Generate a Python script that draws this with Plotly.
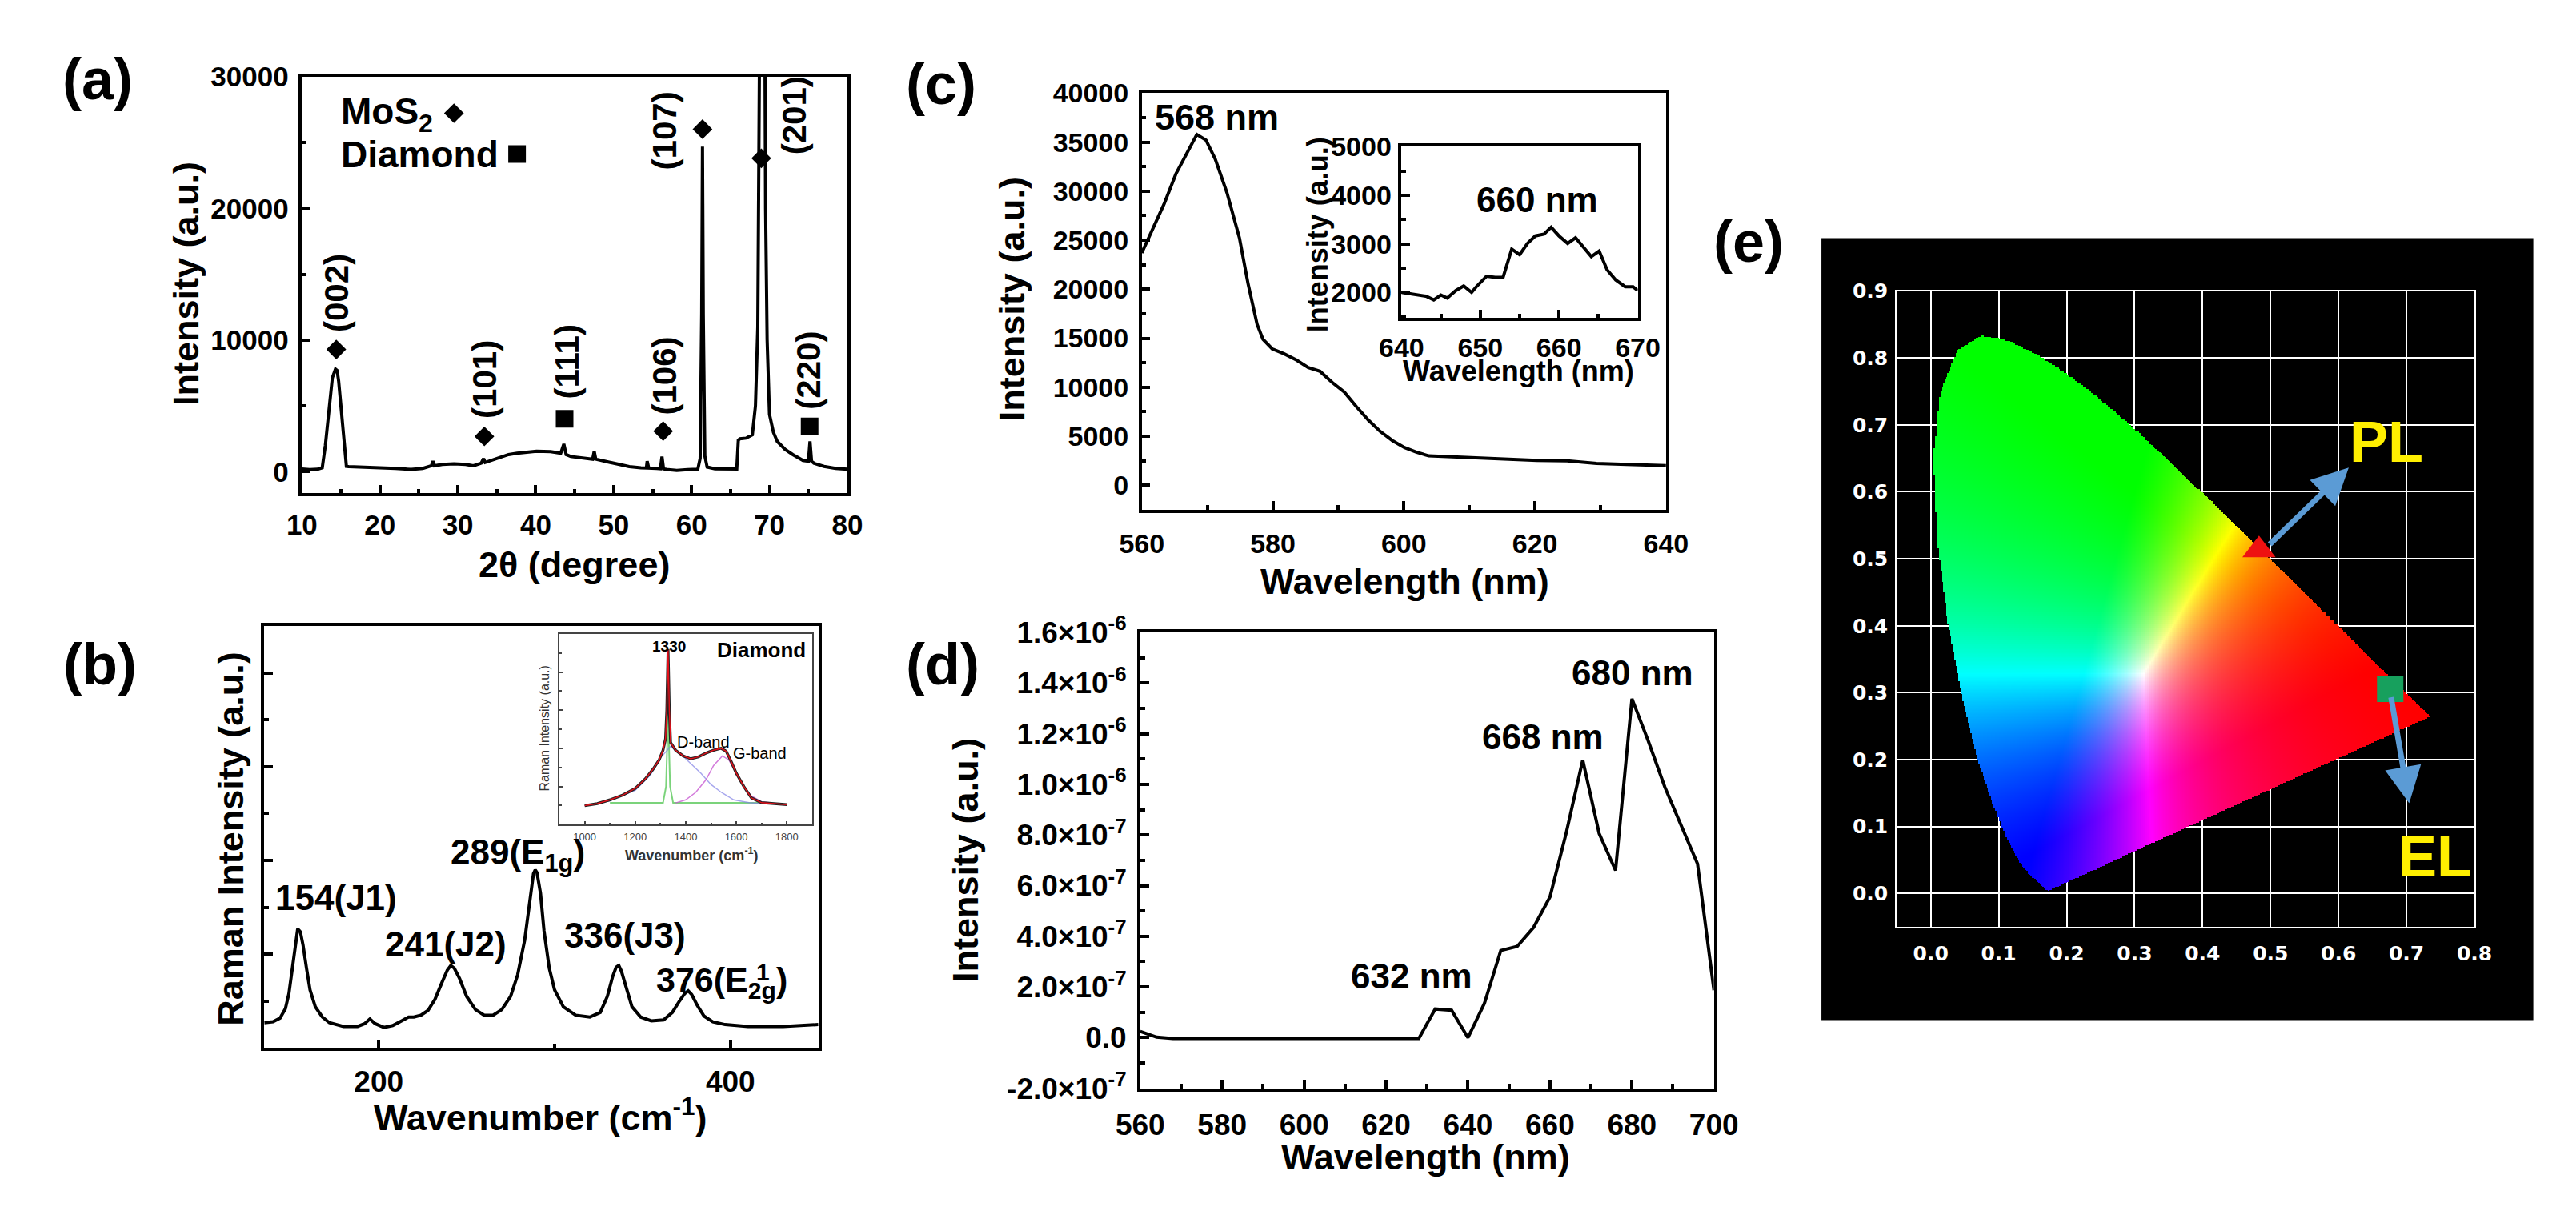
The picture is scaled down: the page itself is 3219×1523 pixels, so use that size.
import numpy as np
import plotly.graph_objects as go

W, H = 3219, 1523
FONT = "Liberation Sans, Arial, sans-serif"

# ---------------- (a) XRD ----------------
xrd_2theta = [10.0, 11.0, 12.0, 12.6, 13.0, 13.5, 13.9, 14.3, 14.5, 14.7, 15.0, 15.4, 15.7, 16.0,
              17.0, 18.5, 20.0, 22.0, 24.0, 25.5, 26.6, 26.8, 27.0, 28.0, 29.5, 31.0, 32.0, 33.0,
              33.3, 33.5, 34.5, 35.5, 36.5, 37.6, 39.0, 40.1, 41.9, 43.2, 43.6, 43.9, 44.5, 45.5,
              47.3, 47.5, 47.7, 49.2, 50.5, 52.0, 53.5, 54.2, 54.3, 54.5, 55.5, 56.0, 56.2, 56.4,
              57.0, 58.1, 59.5, 60.8, 61.1, 61.3, 61.4, 61.5, 61.7, 62.0, 63.0, 64.5, 65.8, 66.0,
              66.2, 67.0, 67.8, 68.2, 68.5, 68.7, 68.9, 69.1, 69.3, 69.5, 69.7, 70.0, 70.5, 71.0,
              72.0, 73.0, 74.3, 75.0, 75.2, 75.4, 75.7, 77.0, 78.5, 80.0]
xrd_intensity = [200, 150, 180, 300, 2000, 5000, 7140, 7800, 7700, 6900, 5000, 2000, 400, 380,
                 370, 350, 300, 250, 170, 250, 450, 800, 450, 550, 600, 550, 450, 650,
                 1000, 700, 900, 1100, 1300, 1400, 1500, 1550, 1520, 1400, 2100, 1300, 1150, 1080,
                 950, 1550, 950, 750, 550, 380, 300, 280, 800, 280, 250, 230, 1150, 220,
                 150, 100, 150, 190, 1000, 12000, 24700, 12000, 1200, 350, 220, 200, 200, 2400,
                 2500, 2550, 2800, 5000, 11000, 30000, 60000, 62000, 50000, 20000, 10000, 4350, 3000, 2300,
                 1700, 1300, 850, 800, 2300, 800, 640, 400, 250, 180]

xrd_labels = ["(002)", "(101)", "(111)", "(106)", "(107)", "(201)", "(220)"]
xrd_label_x = [14.5, 33.45, 44.0, 56.55, 56.55, 73.15, 75.0]
xrd_label_y = [13590, 7000, 8350, 7260, 25880, 27080, 7720]
mos2_mark_x = [14.4, 33.4, 56.35, 61.4, 68.95, 29.5]
mos2_mark_y = [9290, 2680, 3080, 26020, 23810, 27235]
diamond_mark_x = [43.7, 75.15, 37.6]
diamond_mark_y = [4020, 3440, 24130]

# ---------------- (b) Raman ----------------
raman_shift = [135, 140, 144, 147, 149, 151, 153, 154, 155.5, 157, 159, 161, 164, 168, 172, 180,
               188, 192, 195, 198, 203, 208, 213, 217, 220, 224, 228, 232, 236, 239, 241, 243,
               246, 250, 255, 260, 265, 270, 275, 279, 283, 286, 288, 289, 290, 292, 294, 297,
               300, 305, 312, 320, 326, 330, 333, 335, 336.5, 338, 341, 344, 349, 355, 362, 367,
               371, 374, 376, 378, 381, 385, 390, 397, 410, 430, 450]
raman_int = [0.27, 0.28, 0.32, 0.42, 0.58, 0.85, 1.18, 1.27, 1.24, 1.10, 0.85, 0.62, 0.44, 0.33, 0.27, 0.23,
             0.23, 0.26, 0.31, 0.26, 0.22, 0.24, 0.29, 0.33, 0.33, 0.35, 0.40, 0.52, 0.70, 0.83, 0.88, 0.85,
             0.74, 0.55, 0.41, 0.35, 0.35, 0.41, 0.55, 0.78, 1.15, 1.60, 1.86, 1.90, 1.87, 1.65, 1.25, 0.85,
             0.62, 0.44, 0.35, 0.33, 0.38, 0.55, 0.76, 0.86, 0.88, 0.82, 0.62, 0.44, 0.33, 0.29, 0.30, 0.38,
             0.50, 0.58, 0.61, 0.57, 0.46, 0.34, 0.28, 0.25, 0.23, 0.23, 0.25]
raman_labels = ["154(J1)", "241(J2)", "289(E<sub>1g</sub>)", "336(J3)"]
raman_label_x = [176, 238, 279, 340]
raman_label_y = [1.6, 1.11, 2.06, 1.2]

# inset: diamond Raman
dia_shift = [1000, 1050, 1100, 1150, 1200, 1240, 1270, 1295, 1310, 1320, 1325, 1330, 1335, 1340,
             1360, 1390, 1420, 1450, 1480, 1510, 1540, 1560, 1580, 1600, 1630, 1660, 1700, 1750, 1800]
dia_int = [0.10, 0.11, 0.13, 0.155, 0.19, 0.24, 0.29, 0.34, 0.39, 0.45, 0.60, 0.92, 0.60, 0.43,
           0.39, 0.36, 0.345, 0.355, 0.375, 0.39, 0.40, 0.385, 0.33, 0.27, 0.20, 0.14, 0.115, 0.11, 0.105]
dband_shift = [1000, 1100, 1200, 1260, 1300, 1340, 1380, 1420, 1460, 1500, 1540, 1590, 1650, 1700]
dband_int = [0.10, 0.125, 0.18, 0.26, 0.35, 0.41, 0.37, 0.32, 0.27, 0.21, 0.17, 0.13, 0.115, 0.11]
gband_shift = [1360, 1400, 1440, 1480, 1510, 1545, 1570, 1600, 1630, 1660, 1700, 1740]
gband_int = [0.114, 0.13, 0.17, 0.235, 0.31, 0.36, 0.34, 0.27, 0.20, 0.15, 0.12, 0.114]
diapk_shift = [1100, 1310, 1322, 1327, 1330, 1333, 1338, 1350, 1700]
diapk_int = [0.114, 0.114, 0.2, 0.45, 0.58, 0.45, 0.2, 0.114, 0.114]

# ---------------- (c) PL ----------------
pl_wl = [560, 561.6, 563.4, 565.2, 567.1, 568.4, 569.8, 571.2, 573.0, 574.9, 576.2, 577.6, 578.5,
         579.9, 581.7, 583.6, 585.4, 587.2, 589.1, 590.9, 592.8, 594.6, 596.4, 598.3, 600.1, 601.9,
         603.8, 607.4, 611.1, 615.7, 620.3, 624.9, 629.4, 634.0, 639.5, 640]
pl_int = [23700, 26000, 28690, 31750, 34050, 35780, 35200, 33290, 29840, 25230, 20630, 16410, 14880,
          13920, 13420, 12770, 12000, 11620, 10470, 9510, 7980, 6630, 5480, 4530, 3840, 3380,
          2990, 2880, 2800, 2610, 2530, 2490, 2220, 2110, 2030, 2000]
pl_zoom_wl = [640, 641.9, 643.1, 644.1, 645.0, 645.8, 646.9, 647.9, 648.9, 649.5, 650.8, 651.9, 652.9,
              654.0, 655.0, 656.0, 657.0, 658.1, 659.0, 660.0, 661.1, 662.1, 663.1, 664.1, 665.1,
              666.1, 667.2, 668.4, 669.4, 670]
pl_zoom_int = [2000, 1946, 1922, 1845, 1946, 1884, 2039, 2132, 2000, 2116, 2333, 2310, 2310,
               2891, 2775, 3008, 3163, 3202, 3341, 3163, 3008, 3124, 2930, 2736, 2853,
               2465, 2256, 2116, 2116, 2039]

# ---------------- (d) EL ----------------
el_wl = [560, 564, 568, 628, 632, 636, 640, 644, 648, 652, 656, 660, 664, 668, 672, 676, 680,
         684, 688, 692, 696, 700]
el_int = [0.25e-7, 0.02e-7, -0.03e-7, -0.03e-7, 1.13e-7, 1.08e-7, 0.0, 1.35e-7, 3.44e-7, 3.6e-7,
          4.35e-7, 5.55e-7, 8.1e-7, 10.96e-7, 8.06e-7, 6.6e-7, 13.38e-7, 11.7e-7, 9.9e-7, 8.4e-7,
          6.86e-7, 1.87e-7]
el_tickvals = [-2e-7, 0, 2e-7, 4e-7, 6e-7, 8e-7, 1.0e-6, 1.2e-6, 1.4e-6, 1.6e-6]
el_ticktext = ["-2.0×10<sup>-7</sup>", "0.0", "2.0×10<sup>-7</sup>", "4.0×10<sup>-7</sup>",
               "6.0×10<sup>-7</sup>", "8.0×10<sup>-7</sup>", "1.0×10<sup>-6</sup>",
               "1.2×10<sup>-6</sup>", "1.4×10<sup>-6</sup>", "1.6×10<sup>-6</sup>"]

# ---------------- (e) CIE 1931 ----------------
cie_x = [0.1741, 0.1738, 0.1733, 0.1726, 0.1714, 0.1689, 0.1644, 0.1566, 0.1440, 0.1355, 0.1241,
         0.1096, 0.0913, 0.0687, 0.0454, 0.0235, 0.0082, 0.0039, 0.0139, 0.0389, 0.0743, 0.1142,
         0.1547, 0.1929, 0.2296, 0.2658, 0.3016, 0.3373, 0.3731, 0.4087, 0.4441, 0.4788, 0.5125,
         0.5448, 0.5752, 0.6029, 0.6270, 0.6482, 0.6658, 0.6915, 0.7079, 0.7190, 0.7260, 0.7300,
         0.7334, 0.7347]
cie_y = [0.0050, 0.0049, 0.0048, 0.0048, 0.0051, 0.0069, 0.0109, 0.0177, 0.0297, 0.0399, 0.0578,
         0.0868, 0.1327, 0.2007, 0.2950, 0.4127, 0.5384, 0.6548, 0.7502, 0.8120, 0.8338, 0.8262,
         0.8059, 0.7816, 0.7543, 0.7243, 0.6923, 0.6589, 0.6245, 0.5896, 0.5547, 0.5202, 0.4866,
         0.4544, 0.4242, 0.3965, 0.3725, 0.3514, 0.3340, 0.3083, 0.2920, 0.2809, 0.2740, 0.2700,
         0.2666, 0.2653]
pl_cie = (0.483, 0.513)
el_cie = (0.676, 0.306)


def px(p):
    return p / W


def py(p):
    return 1 - p / H


# colour image of the chromaticity diagram
step = 0.002
gx = np.arange(0.001, 0.740, step)
gy = np.arange(0.001, 0.840, step)
GX, GY = np.meshgrid(gx, gy)
inside = np.zeros(GX.shape, bool)
n = len(cie_x)
j = n - 1
for i in range(n):
    xi, yi, xj, yj = cie_x[i], cie_y[i], cie_x[j], cie_y[j]
    if yi != yj:
        cross = ((yi > GY) != (yj > GY)) & (GX < (xj - xi) * (GY - yi) / (yj - yi) + xi)
        inside ^= cross
    j = i
Xc = GX / GY
Zc = (1 - GX - GY) / GY
r = 3.2406 * Xc - 1.5372 - 0.4986 * Zc
g = -0.9689 * Xc + 1.8758 + 0.0415 * Zc
b = 0.0557 * Xc - 0.2040 + 1.0570 * Zc
rgb = np.clip(np.stack([r, g, b], -1), 0, None)
rgb = rgb / (rgb.max(-1, keepdims=True) + 1e-9)
rgb = rgb ** 1.1
img = np.zeros(GX.shape + (4,))
img[..., :3] = np.round(rgb * 255)
img[..., 3] = inside.astype(float)
img = img.astype(int).tolist()

fig = go.Figure()

line = dict(color="black", width=4)
fig.add_trace(go.Scatter(x=xrd_2theta, y=xrd_intensity, mode="lines", line=line, xaxis="x", yaxis="y"))
fig.add_trace(go.Scatter(x=mos2_mark_x, y=mos2_mark_y, mode="markers", xaxis="x", yaxis="y",
                         marker=dict(symbol="diamond", size=19, color="black")))
fig.add_trace(go.Scatter(x=diamond_mark_x, y=diamond_mark_y, mode="markers", xaxis="x", yaxis="y",
                         marker=dict(symbol="square", size=22, color="black")))

fig.add_trace(go.Scatter(x=raman_shift, y=raman_int, mode="lines", line=line, xaxis="x2", yaxis="y2"))

fig.add_trace(go.Scatter(x=diapk_shift, y=diapk_int, mode="lines", xaxis="x3", yaxis="y3",
                         line=dict(color="rgba(90,200,90,0.8)", width=2)))
fig.add_trace(go.Scatter(x=dband_shift, y=dband_int, mode="lines", xaxis="x3", yaxis="y3",
                         line=dict(color="rgba(130,130,230,0.7)", width=1.5)))
fig.add_trace(go.Scatter(x=gband_shift, y=gband_int, mode="lines", xaxis="x3", yaxis="y3",
                         line=dict(color="rgba(200,90,210,0.8)", width=1.5)))
fig.add_trace(go.Scatter(x=dia_shift, y=dia_int, mode="lines", xaxis="x3", yaxis="y3",
                         line=dict(color="#222222", width=3.5)))
fig.add_trace(go.Scatter(x=dia_shift, y=dia_int, mode="lines", xaxis="x3", yaxis="y3",
                         line=dict(color="#e0101a", width=1.5)))

fig.add_trace(go.Scatter(x=pl_wl, y=pl_int, mode="lines", line=line, xaxis="x4", yaxis="y4"))
fig.add_trace(go.Scatter(x=pl_zoom_wl, y=pl_zoom_int, mode="lines", line=line, xaxis="x5", yaxis="y5"))
fig.add_trace(go.Scatter(x=el_wl, y=el_int, mode="lines", line=line, xaxis="x6", yaxis="y6"))

fig.add_trace(go.Image(z=img, colormodel="rgba", x0=gx[0], dx=step, y0=gy[0], dy=step,
                       xaxis="x7", yaxis="y7", hoverinfo="skip"))
fig.add_trace(go.Scatter(x=[pl_cie[0]], y=[pl_cie[1]], mode="markers", xaxis="x7", yaxis="y7",
                         marker=dict(symbol="triangle-up", size=36, color="#ee1111")))
fig.add_trace(go.Scatter(x=[el_cie[0]], y=[el_cie[1]], mode="markers", xaxis="x7", yaxis="y7",
                         marker=dict(symbol="square", size=33, color="#17a05d")))


def axis(domain, rng, anchor, dtick, minor, size, labels=True, standoff=6, fmt=None, tl=11, lw=3.5,
         color="black", weight="bold"):
    d = dict(domain=domain, range=rng, anchor=anchor, autorange=False, dtick=dtick, tick0=0,
             ticks="inside", ticklen=tl, tickwidth=lw, tickcolor=color,
             minor=dict(dtick=minor, tick0=0, ticks="inside", ticklen=tl // 2 + 1, tickwidth=lw, tickcolor=color),
             showline=True, linewidth=lw, linecolor=color, mirror=True,
             showgrid=False, zeroline=False, showticklabels=labels,
             tickfont=dict(family=FONT, size=size, color=color, weight=weight),
             ticklabelstandoff=standoff)
    if fmt:
        d["tickformat"] = fmt
    return d


fig.update_layout(
    width=W, height=H, margin=dict(l=0, r=0, t=0, b=0), showlegend=False,
    paper_bgcolor="white", plot_bgcolor="rgba(0,0,0,0)",
    xaxis=axis([px(345), px(1040)], [10, 80], "y", 10, 5, 35),
    yaxis=axis([py(601), py(64)], [-1650, 30000], "x", 10000, 5000, 35, fmt="d"),
    xaxis2=axis([px(297), px(1003)], [135, 450], "y2", 200, 100, 37),
    yaxis2=axis([py(1316), py(772)], [0, 4.5], "x2", 1, 0.5, 37, labels=False),
    xaxis3=axis([px(673), px(995)], [900, 1900], "y3", 200, 100, 13, tl=5, lw=1.5,
                color="#444444", weight="normal", standoff=2),
    yaxis3=axis([py(1028), py(782)], [0, 1], "x3", 0.2, 0.1, 13, labels=False, tl=5, lw=1.5,
                color="#444444"),
    xaxis4=axis([px(1415), px(2083)], [560, 640], "y4", 20, 10, 34, standoff=10),
    yaxis4=axis([py(622), py(85)], [-2500, 40000], "x4", 5000, 2500, 34, fmt="d"),
    xaxis5=axis([px(1746), px(2047)], [640, 670], "y5", 10, 5, 34, standoff=4),
    yaxis5=axis([py(375), py(154)], [1470, 5000], "x5", 1000, 500, 34, fmt="d", standoff=2),
    xaxis6=axis([px(1413), px(2144)], [560, 700], "y6", 20, 10, 37, standoff=10),
    yaxis6=axis([py(1368), py(780)], [-2e-7, 1.6e-6], "x6", 2e-7, 1e-7, 37),
    xaxis7=dict(domain=[px(2377), px(3113)], range=[-0.05, 0.8], anchor="y7", autorange=False,
                dtick=0.1, tick0=0, tickformat=".1f", showgrid=True, gridcolor="white", gridwidth=2,
                showline=True, linecolor="white", linewidth=2, mirror=True, zeroline=False, ticks="",
                tickfont=dict(family="DejaVu Sans, sans-serif", size=25, color="white", weight="bold"),
                ticklabelstandoff=10),
    yaxis7=dict(domain=[py(1160), py(340)], range=[-0.05, 0.9], anchor="x7", autorange=False,
                scaleanchor=False,
                dtick=0.1, tick0=0, tickformat=".1f", showgrid=True, gridcolor="white", gridwidth=2,
                showline=True, linecolor="white", linewidth=2, mirror=True, zeroline=False, ticks="",
                tickfont=dict(family="DejaVu Sans, sans-serif", size=25, color="white", weight="bold"),
                ticklabelstandoff=4),
)
fig.update_layout(yaxis6=dict(tickmode="array", tickvals=el_tickvals, ticktext=el_ticktext))

fig.add_shape(type="rect", xref="paper", yref="paper", x0=px(2281), x1=px(3188), y0=py(1280), y1=py(272),
              fillcolor="black", line=dict(width=0), layer="below")

ann = []


def text(t, x, y, size, xref="paper", yref="paper", angle=0, bold=True, color="black",
         xanchor="center", yanchor="middle", family=FONT):
    ann.append(dict(text=t, x=x, y=y, xref=xref, yref=yref, showarrow=False, textangle=angle,
                    xanchor=xanchor, yanchor=yanchor,
                    font=dict(family=family, size=size, color=color, weight="bold" if bold else "normal")))


# panel letters
for lab, (lx, ly) in zip(["(a)", "(b)", "(c)", "(d)", "(e)"],
                         [(85, 67), (88, 821), (1159, 73), (1161, 821), (2188, 277)]):
    text(lab, px(lx), py(ly), 72)

# axis titles
text("Intensity (a.u.)", px(198), py(331), 45, angle=-90)
text("2θ (degree)", px(692), py(693), 45)
text("Raman Intensity (a.u.)", px(255), py(1046), 45, angle=-90)
text("Wavenumber (cm<sup>-1</sup>)", px(649), py(1402), 45)
text("Raman Intensity (a.u.)", px(654), py(904), 16, angle=-90, bold=False, color="#333333")
text("Wavenumber (cm<sup>-1</sup>)", px(842), py(1066), 18, color="#333333")
text("Intensity (a.u.)", px(1249), py(350), 45, angle=-90)
text("Wavelength (nm)", px(1750), py(715), 45)
text("Intensity (a.u.)", px(1639), py(267), 36, angle=-90)
text("Wavelength (nm)", px(1895), py(443), 36)
text("Intensity (a.u.)", px(1191), py(1074), 45, angle=-90)
text("Wavelength (nm)", px(1777), py(1456), 45)

# (a) annotations
text("MoS<sub>2</sub>", 14.8, 27200, 46, "x", "y", xanchor="left")
text("Diamond", 14.8, 24100, 46, "x", "y", xanchor="left")
for t, lx, ly in zip(xrd_labels, xrd_label_x, xrd_label_y):
    text(t, lx, ly, 42, "x", "y", angle=-90)

# (b) annotations
for t, lx, ly in zip(raman_labels, raman_label_x, raman_label_y):
    text(t, lx, ly, 44, "x2", "y2")
text("376(E<sub>2g</sub>)", 357, 0.70, 43, "x2", "y2", xanchor="left")
text("1", 418.5, 0.81, 30, "x2", "y2")
text("1330", 1334, 0.935, 19, "x3", "y3")
text("Diamond", 1699, 0.915, 26, "x3", "y3")
text("D-band", 1358, 0.434, 20, "x3", "y3", xanchor="left", bold=False)
text("G-band", 1582, 0.373, 20, "x3", "y3", xanchor="left", bold=False)

# (c), (d)
text("568 nm", 571.5, 37500, 45, "x4", "y4")
text("660 nm", 657.2, 3900, 44, "x5", "y5")
text("680 nm", 680.2, 14.39e-7, 44, "x6", "y6")
text("668 nm", 658.2, 11.86e-7, 44, "x6", "y6")
text("632 nm", 626.3, 2.44e-7, 44, "x6", "y6")

# (e)
text("PL", 0.67, 0.675, 72, "x7", "y7", color="#ffef00")
text("EL", 0.742, 0.055, 72, "x7", "y7", color="#ffef00")
for (hx, hy), (tx, ty) in [((0.615, 0.636), (0.497, 0.52)), ((0.704, 0.135), (0.677, 0.295))]:
    ann.append(dict(x=hx, y=hy, ax=tx, ay=ty, xref="x7", yref="y7", axref="x7", ayref="y7",
                    text="", showarrow=True, arrowhead=2, arrowsize=1.3, arrowwidth=7,
                    arrowcolor="#5b9bd5"))

fig.update_layout(annotations=ann)
fig.write_html("out.html")
